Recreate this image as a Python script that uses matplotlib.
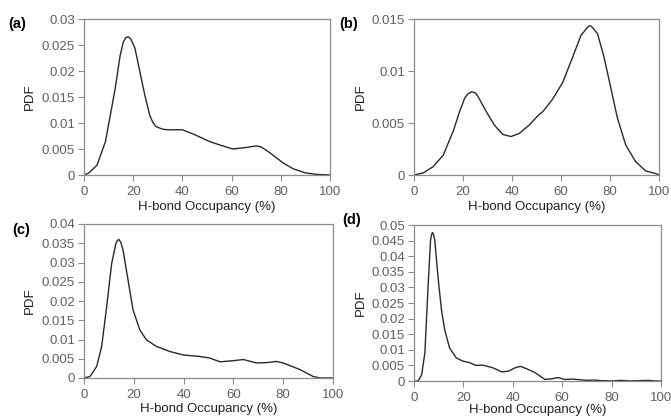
import numpy as np
import matplotlib.pyplot as plt
from matplotlib.ticker import FuncFormatter

plt.rcParams['font.family'] = ['Liberation Sans', 'DejaVu Sans']

# (a)
occ_a = [0, 2, 5.3, 8.7, 10.7, 12.7, 14.7, 16, 17, 18, 19, 20.7, 22.7, 24.7, 26.7,
         28, 29.3, 32, 34, 36, 40, 45.3, 50.7, 55, 60.5, 66, 70, 72, 75.5, 81, 85,
         90, 95, 100]
pdf_a = [0, 0.0004, 0.0019, 0.0064, 0.0115, 0.0167, 0.023, 0.0256, 0.0264, 0.0266,
         0.0262, 0.0244, 0.0199, 0.0154, 0.0115, 0.0101, 0.0093, 0.0088, 0.0087,
         0.0087, 0.0087, 0.0077, 0.0065, 0.0058, 0.005, 0.0053, 0.0056, 0.0054,
         0.0043, 0.0023, 0.0012, 0.0004, 0.0001, 0]

# (b)
occ_b = [0, 3.8, 7.8, 11.9, 16, 18.6, 20.7, 22, 23.4, 25, 26, 29.5, 32.8, 36.2,
         39.6, 43, 47, 51, 52.6, 56.6, 60.7, 64.7, 68.1, 70.8, 71.6, 72.4, 74.9,
         77.6, 80.3, 83, 86.4, 90.4, 94.5, 99.2, 100]
pdf_b = [0, 0.0002, 0.0008, 0.0019, 0.0042, 0.0061, 0.0074, 0.0078, 0.008, 0.0079,
         0.0076, 0.0061, 0.0048, 0.0039, 0.0037, 0.004, 0.0048, 0.0058, 0.0061,
         0.0073, 0.0089, 0.0113, 0.0134, 0.0142, 0.01435, 0.0143, 0.0136, 0.0113,
         0.0084, 0.0055, 0.0029, 0.0013, 0.0004, 0.0001, 0]

# (c)
occ_c = [0, 2.4, 5.1, 7.1, 9.1, 11.1, 12.8, 13.4, 14, 14.8, 15.7, 17.7, 19.7, 22.4,
         25.1, 29.1, 34.4, 39.7, 46.4, 50.4, 54.7, 60, 64, 69.3, 73.3, 77.3, 80,
         86.7, 92, 94.7, 100]
pdf_c = [0, 0.0004, 0.003, 0.0082, 0.0185, 0.0297, 0.0349, 0.0357, 0.036, 0.0352,
         0.0332, 0.0254, 0.0177, 0.0125, 0.0099, 0.0082, 0.0069, 0.006, 0.0056,
         0.0052, 0.0042, 0.0045, 0.0048, 0.0039, 0.004, 0.0043, 0.0039, 0.0022,
         0.0004, 0, 0]

# (d)
occ_d = [0, 1.7, 3.1, 4.4, 5.7, 6.7, 7.1, 7.5, 7.9, 8.4, 9.7, 11.1, 12.4, 14.4,
         17.1, 19.7, 22.4, 25.1, 27.7, 31.7, 35.7, 38.4, 41.1, 43.1, 45.7, 49, 53,
         55.7, 58.4, 61, 64.5, 67, 70.5, 73, 75.9, 80, 84, 87.4, 94.9, 98, 100]
pdf_d = [0, 0, 0.002, 0.009, 0.0303, 0.0452, 0.0469, 0.0476, 0.047, 0.0452, 0.0335,
         0.0229, 0.0165, 0.0106, 0.0074, 0.0064, 0.0059, 0.005, 0.0051, 0.0043,
         0.0029, 0.0032, 0.0043, 0.0047, 0.0039, 0.0027, 0.0005, 0.0007, 0.0011,
         0.0005, 0.0006, 0.0004, 0.0002, 0.0003, 0.0001, 0, 0.0002, 0, 0.0002, 0, 0]

# label, x, y, ymax, ystep, axes box (l, r, t, b) in px, panel label pos, PDF x, xlabel y
panels = [
    ("(a)", occ_a, pdf_a, 0.03, 0.005, (84, 330, 19, 175), (8, 24), 30, 207),
    ("(b)", occ_b, pdf_b, 0.015, 0.005, (414, 659, 19, 175), (339, 24), 361, 207),
    ("(c)", occ_c, pdf_c, 0.04, 0.005, (84, 333, 224, 378), (12, 230), 30, 409),
    ("(d)", occ_d, pdf_d, 0.05, 0.005, (414, 661, 225, 381), (342, 220), 361, 410),
]

W, H = 671, 418
fig = plt.figure(figsize=(W / 100, H / 100), dpi=100)

tick_grey = '#606060'
frame_grey = '#8c8c8c'

for label, x, y, ymax, ystep, (l, r, t, b), (lx, ly), ylab_x, xlab_y in panels:
    ax = fig.add_axes([l / W, 1 - b / H, (r - l) / W, (b - t) / H])
    ax.plot(x, y, color='#2a2a2a', lw=1.0)
    ax.set_xlim(0, 100)
    ax.set_ylim(0, ymax)
    ax.set_xticks(np.arange(0, 101, 20))
    ax.set_yticks(np.arange(0, ymax + ystep / 2, ystep))
    ax.yaxis.set_major_formatter(FuncFormatter(lambda v, p: '%g' % round(v, 4)))
    for s in ax.spines.values():
        s.set_color(frame_grey)
        s.set_linewidth(0.9)
    ax.tick_params(direction='out', length=4, width=0.8, color=frame_grey,
                   labelsize=9.5, labelcolor=tick_grey, pad=2.5)
    ax.tick_params(axis='x', pad=4)
    ax.set_xlabel("H-bond Occupancy (%)", fontsize=9.5, color='#202020')
    ax.xaxis.set_label_coords((l + r) / 2 / W, 1 - xlab_y / H, transform=fig.transFigure)
    ax.xaxis.label.set_verticalalignment('center')
    ax.set_ylabel("PDF", fontsize=9.5, color='#202020')
    ax.yaxis.set_label_coords(ylab_x / W, 1 - (t + b) / 2 / H, transform=fig.transFigure)
    ax.yaxis.label.set_verticalalignment('center')
    fig.text(lx / W, 1 - ly / H, label, fontsize=10.5, fontweight='bold',
             ha='left', va='center', color='black')

fig.savefig("out.png", dpi=100)
